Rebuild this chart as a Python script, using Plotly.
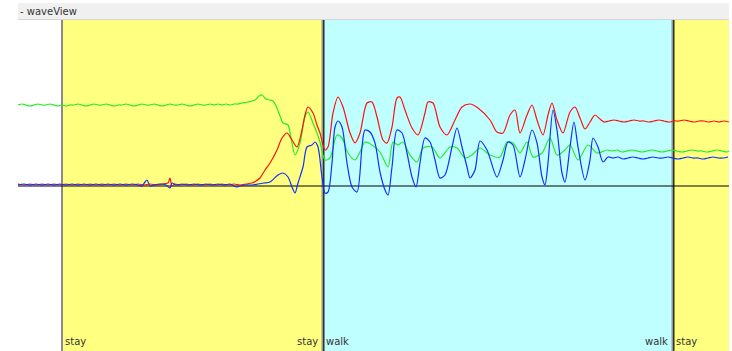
import plotly.graph_objects as go

green_t = [0, 4, 8, 12, 16, 20, 24, 28, 32, 36, 40, 44, 48, 52, 56, 60, 64, 68, 72, 76,
           80, 84, 88, 92, 96, 100, 104, 108, 112, 116, 120, 124, 128, 132, 136, 140, 144, 148, 152, 156,
           160, 164, 168, 172, 176, 180, 184, 188, 192, 196, 200, 204, 208, 212, 216, 220,
           224, 230, 237, 241, 244, 248, 252, 255, 259, 262, 265, 270, 273, 277, 282, 287, 290, 295, 299, 302,
           307, 312, 319, 324, 330, 337, 342, 347, 354, 362, 370, 375, 380, 385, 392, 399, 405, 414, 422, 432,
           439, 447, 454, 462, 472, 482, 489, 495, 502, 509, 515, 524, 532, 539, 547, 552, 560, 570, 579, 589,
           594, 599, 604, 609, 614, 619, 624, 629, 634, 639, 644, 649, 654, 659, 664, 669, 674, 679, 684, 689,
           694, 699, 704, 709, 711]
green_v = [81, 82, 81, 80, 81, 82, 81, 81, 82, 81, 80, 81, 80, 81, 81, 82, 81, 80, 81, 82,
           81, 81, 82, 81, 80, 81, 81, 82, 81, 80, 81, 82, 81, 81, 82, 81, 80, 81, 82, 81,
           81, 82, 81, 80, 81, 82, 81, 81, 82, 81, 82, 81, 82, 81, 82, 82,
           83, 84, 86, 90, 91, 87, 86, 85, 78, 70, 63, 61, 48, 31, 43, 69, 74, 63, 53, 44,
           26, 28, 51, 48, 33, 26, 34, 44, 41, 34, 19, 44, 41, 44, 31, 24, 38, 39, 28, 39,
           38, 28, 31, 38, 31, 29, 44, 43, 33, 44, 29, 33, 48, 31, 36, 41, 26, 41, 33, 36,
           35, 36, 34, 35, 36, 35, 34, 35, 36, 35, 34, 35, 36, 35, 34, 35, 36, 35, 35, 34,
           35, 36, 35, 34, 35]

red_t = [0, 6, 12, 18, 24, 30, 36, 42, 48, 54, 60, 66, 72, 78, 84, 90, 96, 102, 108, 114,
         120, 126, 132, 138, 144, 150, 152, 154, 157, 162, 168, 174, 180, 186, 192, 198, 204, 210, 216, 222,
         228, 234, 238, 242, 247, 252, 259, 264, 269, 274, 279, 284, 287, 290, 295, 299, 302, 307, 310, 315,
         320, 325, 332, 337, 342, 349, 354, 359, 365, 369, 374, 379, 382, 387, 394, 400, 407, 410, 415, 422,
         429, 437, 444, 452, 460, 472, 479, 485, 492, 497, 502, 509, 514, 519, 525, 530, 534, 539, 545, 552,
         557, 562, 567, 572, 577, 582, 586,
         591, 596, 601, 606, 611, 616, 621, 626, 631, 636, 641, 646, 651, 656, 661, 666, 671, 676, 681, 686,
         691, 696, 701, 706, 711]
red_v = [2, 1, 2, 1, 2, 1, 2, 1, 2, 1, 2, 1, 2, 1, 2, 1, 2, 1, 2, 1,
         2, 1, 2, 1, 2, 3, 8, 0, 2, 1, 2, 1, 2, 1, 2, 1, 2, 1, 2, 1,
         2, 3, 5, 8, 16, 23, 36, 48, 53, 46, 39, 56, 71, 79, 73, 61, 53, 36, 39, 73,
         89, 79, 53, 43, 53, 83, 84, 69, 46, 43, 59, 88, 89, 76, 58, 51, 73, 84, 83, 59,
         51, 66, 79, 82, 78, 66, 54, 53, 71, 76, 53, 71, 81, 66, 51, 71, 83, 66, 53, 74,
         79, 68, 57, 64, 71, 67, 64,
         65, 66, 65, 64, 65, 66, 65, 65, 64, 65, 66, 65, 64, 65, 65, 66, 65, 64, 65, 65,
         64, 65, 64, 65, 64]

blue_t = [0, 6, 12, 18, 24, 30, 36, 42, 48, 54, 60, 66, 72, 78, 84, 90, 96, 102, 108, 114,
          120, 124, 127, 129, 132, 136, 142, 148, 152, 154, 158, 164, 170, 176, 182, 188, 194, 200, 206, 212,
          218, 222, 228, 234, 240, 246, 252, 260, 265, 270, 274, 277, 280, 285, 289, 294, 297, 300, 304, 307,
          310, 314, 317, 320, 324, 329, 334, 339, 344, 347, 352, 357, 362, 367, 370, 374, 379, 384, 389, 394,
          398, 402, 407, 412, 417, 422, 427, 434, 439, 444, 449, 452, 457, 462, 469, 479, 485, 490, 495, 502,
          507, 514, 519, 524, 527, 530, 535, 539, 544, 547, 552, 556, 560, 567, 572, 575, 580, 585,
          590, 595, 600, 605, 610, 615, 620, 625, 630, 635, 640, 645, 650, 655, 660, 665, 670, 675, 680, 685,
          690, 695, 700, 705, 710]
blue_v = [1, 2, 1, 2, 1, 2, 1, 2, 1, 2, 1, 2, 1, 2, 1, 2, 1, 2, 1, 2,
          1, 0, 4, 6, 0, 1, 2, 1, -2, 3, 1, 2, 1, 2, 1, 2, 1, 2, 1, 2,
          -1, 0, 1, 1, 2, 3, 4, 11, 13, 9, -1, -7, 3, 19, 39, 41, 44, 39, 9, -7,
          -6, 23, 59, 65, 59, 23, -1, -6, 39, 56, 54, 43, 14, -4, -9, 19, 56, 53, 33, 9,
          -1, 23, 48, 44, 26, 8, 11, 39, 58, 39, 19, 8, 16, 45, 36, 9, 26, 44, 41, 9,
          26, 56, 43, 9, 1, 23, 76, 56, 13, 4, 39, 64, 39, 6, 26, 48, 39, 24,
          29, 28, 29, 27, 28, 29, 28, 27, 28, 29, 28, 28, 29, 28, 27, 28, 29, 28, 28, 27,
          28, 29, 28, 28, 29]

# activity segments: (label, start, end)
segments = [("stay", 44, 305), ("walk", 305, 655), ("stay", 655, 715)]
seg_colors = {"stay": "#ffff80", "walk": "#c0ffff"}

fig = go.Figure()
wave = dict(mode="lines", line_shape="spline", hoverinfo="skip")
fig.add_scatter(x=green_t, y=green_v, line=dict(color="#22ee22", width=1.2, smoothing=0.8), **wave)
fig.add_scatter(x=red_t, y=red_v, line=dict(color="#ff1010", width=1.2, smoothing=0.8), **wave)
fig.add_scatter(x=blue_t, y=blue_v, line=dict(color="#1030ff", width=1.2, smoothing=0.8), **wave)

shapes = []
for label, start, end in segments:
    shapes.append(dict(type="rect", xref="x", yref="paper", x0=start, x1=end, y0=0, y1=1,
                       fillcolor=seg_colors[label], line_width=0, layer="below"))
# segment boundaries
shapes.append(dict(type="line", xref="x", yref="paper", x0=44, x1=44, y0=0, y1=1,
                   line=dict(color="#8a8a8a", width=2), layer="below"))
for b in [305, 655]:
    shapes.append(dict(type="line", xref="x", yref="paper", x0=b - 0.8, x1=b - 0.8, y0=0, y1=1,
                       line=dict(color="#8a8a8a", width=1.3), layer="below"))
    shapes.append(dict(type="line", xref="x", yref="paper", x0=b + 0.8, x1=b + 0.8, y0=0, y1=1,
                       line=dict(color="#111111", width=1.3), layer="below"))
# zero line
shapes.append(dict(type="line", xref="paper", yref="y", x0=0, x1=1, y0=0, y1=0,
                   line=dict(color="#000000", width=1), layer="below"))
# window caption bar
shapes.append(dict(type="rect", xref="paper", yref="paper", x0=0, x1=1, y0=1.0015, y1=1.0514,
                   fillcolor="#f0f0f0", line_width=0))
shapes.append(dict(type="line", xref="paper", yref="paper", x0=0, x1=1, y0=1.0015, y1=1.0015,
                   line=dict(color="#d6d6d6", width=1)))

lab_font = dict(family="DejaVu Sans", size=10, color="#333333")
annotations = [dict(text="- waveView", xref="paper", yref="paper", x=0, y=1.027,
                    xanchor="left", yanchor="middle", showarrow=False, font=lab_font)]
for label, start, end in segments:
    annotations.append(dict(text=label, xref="x", yref="paper", x=start + 1, y=0.03,
                            xanchor="left", yanchor="middle", showarrow=False, font=lab_font))
    if end < 700:
        annotations.append(dict(text=label, xref="x", yref="paper", x=end - 3, y=0.03,
                                xanchor="right", yanchor="middle", showarrow=False, font=lab_font))

fig.update_layout(
    width=732, height=351,
    margin=dict(l=18, r=3, t=20, b=0),
    paper_bgcolor="white", plot_bgcolor="white",
    showlegend=False,
    xaxis=dict(range=[0, 711], visible=False),
    yaxis=dict(range=[-165, 166], visible=False),
    shapes=shapes, annotations=annotations,
)
fig.write_html("out.html", config={"displayModeBar": False},
               post_script="document.body.style.margin='0';document.body.style.overflow='hidden';")
